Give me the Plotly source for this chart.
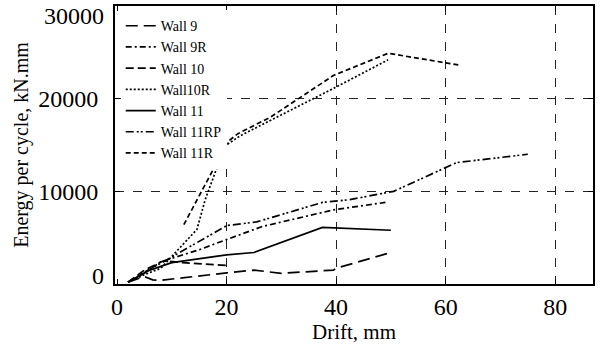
import plotly.graph_objects as go

# ---- data (drift mm, energy per cycle kN.mm) ----
wall9_x = [2, 5, 6.5, 8, 20, 25, 30, 39.5, 40, 50]
wall9_y = [200, 800, 450, 400, 1200, 1500, 1150, 1500, 1700, 3400]

wall9r_x = [2, 5, 8, 15, 20, 26.5, 39.5, 49]
wall9r_y = [200, 1200, 2400, 3700, 4800, 6200, 8000, 8800]

wall10_x = [2, 5, 8.5, 12, 20]
wall10_y = [200, 1500, 2500, 2300, 2000]

wall10r_x = [2, 5, 8, 14.6, 16.1, 19.7, 22.5, 28.5, 39.5, 49.5]
wall10r_y = [200, 1000, 1700, 5900, 9100, 14900, 16000, 17800, 21100, 24200]

wall11_x = [2, 6, 10, 20, 25, 37.5, 50]
wall11_y = [200, 1500, 2300, 3150, 3400, 6100, 5800]

wall11rp_x = [2, 5, 8.5, 14, 20, 25.5, 37.5, 42.5, 50.5, 62, 75]
wall11rp_y = [200, 1300, 2400, 4300, 6300, 6700, 8800, 9100, 10000, 13100, 14000]

wall11r_x = [12.2, 16.6, 18.8, 20.3, 22, 28, 39.5, 49.5, 62.7]
wall11r_y = [6400, 11300, 13800, 15400, 16200, 18000, 22500, 24900, 23600]

series_names = ["Wall 9", "Wall 9R", "Wall 10", "Wall10R", "Wall 11", "Wall 11RP", "Wall 11R"]

x_ticks = [0, 20, 40, 60, 80]
x_grid = [20, 40, 60, 80]
y_ticks = [0, 10000, 20000, 30000]
y_ticktext = ["0", "10000", "20000", "30000"]
y_range = [0, 30000]

# ---- styles ----
dashes = ["12px,6px", "6px,3px,2px,3px", "8px,4px", "2px,2px", "solid",
          "8px,3px,2px,2px,2px,3px", "5px,3px"]
xs = [wall9_x, wall9r_x, wall10_x, wall10r_x, wall11_x, wall11rp_x, wall11r_x]
ys = [wall9_y, wall9r_y, wall10_y, wall10r_y, wall11_y, wall11rp_y, wall11r_y]

fig = go.Figure()
for name, x, y, d in zip(series_names, xs, ys, dashes):
    fig.add_trace(go.Scatter(x=x, y=y, mode="lines", name=name,
                             line=dict(color="black", width=1.7, dash=d)))

font_family = "Liberation Serif"
tick_font = dict(family=font_family, size=24, color="black")
label_gap = 10

fig.update_layout(
    width=600, height=345,
    margin=dict(l=115, r=7, t=6, b=61, autoexpand=False),
    paper_bgcolor="white", plot_bgcolor="white",
    font=dict(family=font_family, color="black", size=20),
    showlegend=True,
    legend=dict(x=0.012, y=0.985, xanchor="left", yanchor="top",
                bgcolor="white", borderwidth=0,
                font=dict(family=font_family, size=14, color="black"),
                tracegroupgap=0, itemwidth=30),
    # extra overlaid axes only to nudge the end labels inward (as in the original)
    yaxis2=dict(overlaying="y", side="left", range=y_range, automargin=False,
                tickmode="array", tickvals=[y_ticks[0]], ticktext=[y_ticktext[0]],
                ticklabelshift=-8, ticklabelstandoff=label_gap, ticklabeloverflow="allow",
                showgrid=False, showline=False, zeroline=False, ticks="",
                tickfont=tick_font, fixedrange=True),
    yaxis3=dict(overlaying="y", side="left", range=y_range, automargin=False,
                tickmode="array", tickvals=[y_ticks[-1]], ticktext=[y_ticktext[-1]],
                ticklabelshift=10, ticklabelstandoff=label_gap, ticklabeloverflow="allow",
                showgrid=False, showline=False, zeroline=False, ticks="",
                tickfont=tick_font, fixedrange=True),
)

fig.update_xaxes(
    range=[-0.37, 86.9], automargin=False,
    tickmode="array", tickvals=x_ticks, ticklabeloverflow="allow",
    ticks="inside", ticklen=5, tickcolor="black", tickwidth=1,
    showline=True, linecolor="black", linewidth=2, mirror="ticks",
    showgrid=False, zeroline=False,
    minor=dict(tickmode="array", tickvals=x_grid, showgrid=True,
               griddash="dash", gridcolor="#222222", gridwidth=1, ticks=""),
    tickfont=tick_font,
    title=dict(text="Drift, mm", font=dict(family=font_family, size=21), standoff=1),
)
fig.update_layout(yaxis=dict(
    range=y_range, automargin=False,
    tickmode="array", tickvals=y_ticks, ticktext=["", y_ticktext[1], y_ticktext[2], ""],
    ticklabelstandoff=label_gap, ticklabeloverflow="allow",
    ticks="inside", ticklen=5, tickcolor="black", tickwidth=1,
    showline=True, linecolor="black", linewidth=2, mirror="ticks",
    showgrid=True, griddash="dash", gridcolor="#222222", gridwidth=1,
    zeroline=False,
    tickfont=tick_font,
    title=dict(text="Energy per cycle, kN.mm", font=dict(family=font_family, size=20), standoff=4),
))

# invisible helper traces so the overlaid label axes are drawn
for ax in ["y2", "y3"]:
    fig.add_trace(go.Scatter(x=[None], y=[None], yaxis=ax, showlegend=False,
                             hoverinfo="skip", mode="lines"))

fig.write_html("out.html", post_script="document.body.style.margin='0';",
               config={"displayModeBar": False})
